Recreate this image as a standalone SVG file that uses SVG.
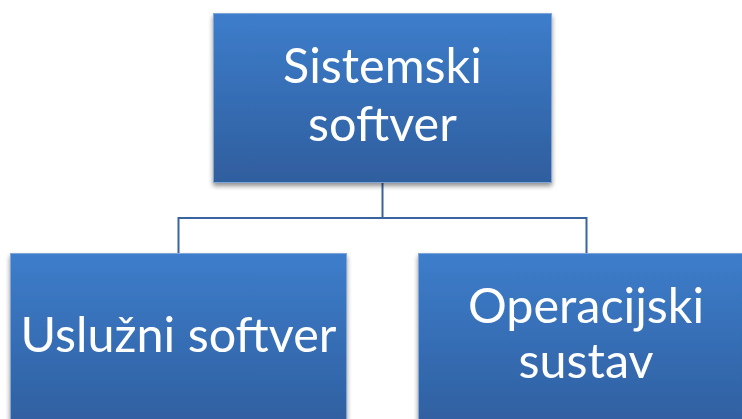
<svg xmlns="http://www.w3.org/2000/svg" width="742" height="419" viewBox="0 0 742 419">
<defs>
<linearGradient id="g" x1="0" y1="0" x2="0" y2="1">
<stop offset="0" stop-color="#3D7DCB"/>
<stop offset="1" stop-color="#2F5E9E"/>
</linearGradient>
<filter id="sh" x="-10%" y="-10%" width="120%" height="130%">
<feGaussianBlur in="SourceAlpha" stdDeviation="2.5"/>
<feOffset dx="0" dy="3" result="b"/>
<feComponentTransfer><feFuncA type="linear" slope="0.45"/></feComponentTransfer>
<feMerge><feMergeNode/><feMergeNode in="SourceGraphic"/></feMerge>
</filter>
</defs>
<style>
.box{fill:url(#g);stroke:#7FA6D8;stroke-width:1;filter:url(#sh)}
.t{fill:#FFFFFF;font-family:"Lato","Open Sans",sans-serif;font-size:48.5px;text-anchor:middle}
.c{fill:none;stroke:#3A64A0;stroke-width:2}
</style>
<rect width="742" height="419" fill="#FFFFFF"/>
<g id="connectors">
<path class="c" d="M382.5 182 V218 M178.5 218 H586.5 M178.5 217 V253 M586.5 217 V253"/>
</g>
<g id="top">
<rect class="box" x="213.5" y="13.5" width="338" height="169"/>
<text class="t" x="382.5" y="83">Sistemski</text>
<text class="t" x="382.5" y="141">softver</text>
</g>
<g id="left">
<rect class="box" x="10.5" y="253.5" width="336" height="180"/>
<text class="t" x="178.5" y="352">Uslužni softver</text>
</g>
<g id="right">
<rect class="box" x="418.5" y="253.5" width="336" height="180"/>
<text class="t" x="586" y="323">Operacijski</text>
<text class="t" x="586" y="378">sustav</text>
</g>
</svg>
